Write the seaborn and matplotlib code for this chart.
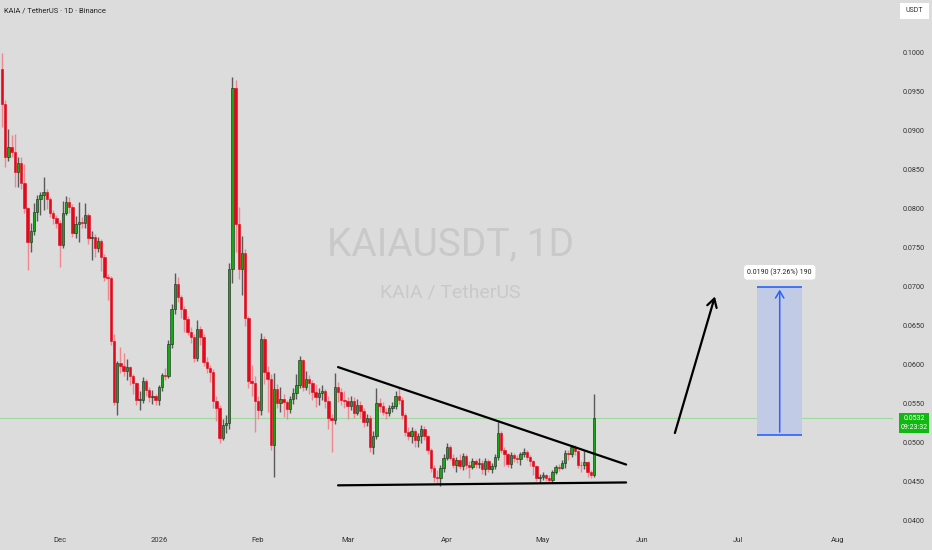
import pandas as pd
import matplotlib
matplotlib.use("Agg")
import matplotlib.pyplot as plt
import matplotlib.dates as mdates
from matplotlib.patches import Rectangle
import seaborn as sns

sns.set_style("white")
plt.rcParams['font.family'] = ['Roboto', 'DejaVu Sans']

# daily candles KAIA/USDT
start_date = "2025-11-13"
first_open = 0.0979
closes = [
    0.0935, 0.0867, 0.0879, 0.0873, 0.0847, 0.0859, 0.0833, 0.0801, 0.0758, 0.0771,
    0.0796, 0.0813, 0.0818, 0.0821, 0.0813, 0.0795, 0.0788, 0.0782, 0.0754, 0.0795,
    0.0809, 0.0803, 0.0769, 0.0781, 0.0783, 0.0782, 0.0792, 0.0762, 0.0764, 0.0750,
    0.0759, 0.0738, 0.0712, 0.0711, 0.0631, 0.0552, 0.0602, 0.0599, 0.0592, 0.0597,
    0.0585, 0.0576, 0.0555, 0.0555, 0.0579, 0.0568, 0.0558, 0.0560, 0.0555, 0.0571,
    0.0587, 0.0586, 0.0626, 0.0671, 0.0704, 0.0687, 0.0672, 0.0659, 0.0642, 0.0636,
    0.0609, 0.0646, 0.0636, 0.0604, 0.0596, 0.0591, 0.0553, 0.0545, 0.0506, 0.0523,
    0.0525, 0.0723, 0.0955, 0.0780, 0.0723, 0.0744, 0.0660, 0.0579, 0.0576, 0.0553,
    0.0542, 0.0633, 0.0591, 0.0582, 0.0497, 0.0569, 0.0551, 0.0556, 0.0552, 0.0543,
    0.0556, 0.0564, 0.0574, 0.0606, 0.0572, 0.0582, 0.0576, 0.0565, 0.0559, 0.0564,
    0.0566, 0.0553, 0.0532, 0.0529, 0.0571, 0.0565, 0.0555, 0.0553, 0.0547, 0.0554,
    0.0538, 0.0549, 0.0541, 0.0527, 0.0532, 0.0495, 0.0508, 0.0551, 0.0547, 0.0540,
    0.0538, 0.0544, 0.0547, 0.0560, 0.0555, 0.0535, 0.0514, 0.0509, 0.0515, 0.0503,
    0.0508, 0.0518, 0.0508, 0.0491, 0.0468, 0.0456, 0.0455, 0.0468, 0.0481, 0.0494,
    0.0481, 0.0471, 0.0478, 0.0470, 0.0483, 0.0472, 0.0469, 0.0477, 0.0473, 0.0474,
    0.0466, 0.0477, 0.0466, 0.0470, 0.0482, 0.0513, 0.0491, 0.0486, 0.0473, 0.0484,
    0.0481, 0.0479, 0.0485, 0.0488, 0.0482, 0.0476, 0.0470, 0.0455, 0.0456, 0.0458,
    0.0455, 0.0452, 0.0462, 0.0469, 0.0468, 0.0474, 0.0487, 0.0485, 0.0494, 0.0489,
    0.0472, 0.0471, 0.0475, 0.0462, 0.0459, 0.0532,
]
highs = [
    0.1000, 0.0940, 0.0903, 0.0895, 0.0896, 0.0866, 0.0867, 0.0857, 0.0803, 0.0782,
    0.0807, 0.0818, 0.0822, 0.0841, 0.0825, 0.0815, 0.0799, 0.0792, 0.0786, 0.0810,
    0.0816, 0.0815, 0.0806, 0.0791, 0.0809, 0.0790, 0.0808, 0.0795, 0.0771, 0.0768,
    0.0764, 0.0761, 0.0742, 0.0716, 0.0714, 0.0640, 0.0605, 0.0623, 0.0615, 0.0607,
    0.0598, 0.0588, 0.0578, 0.0566, 0.0584, 0.0582, 0.0571, 0.0567, 0.0562, 0.0574,
    0.0590, 0.0596, 0.0632, 0.0678, 0.0718, 0.0712, 0.0690, 0.0675, 0.0662, 0.0648,
    0.0640, 0.0657, 0.0650, 0.0640, 0.0610, 0.0600, 0.0595, 0.0560, 0.0548, 0.0530,
    0.0535, 0.0730, 0.0969, 0.0965, 0.0803, 0.0765, 0.0748, 0.0663, 0.0600, 0.0585,
    0.0560, 0.0641, 0.0637, 0.0598, 0.0588, 0.0590, 0.0575, 0.0572, 0.0562, 0.0555,
    0.0560, 0.0570, 0.0588, 0.0611, 0.0608, 0.0592, 0.0587, 0.0580, 0.0575, 0.0570,
    0.0574, 0.0569, 0.0560, 0.0537, 0.0590, 0.0578, 0.0570, 0.0566, 0.0558, 0.0560,
    0.0558, 0.0556, 0.0553, 0.0545, 0.0537, 0.0535, 0.0515, 0.0570, 0.0557, 0.0552,
    0.0545, 0.0548, 0.0552, 0.0566, 0.0572, 0.0558, 0.0538, 0.0520, 0.0520, 0.0518,
    0.0512, 0.0523, 0.0522, 0.0510, 0.0493, 0.0472, 0.0465, 0.0472, 0.0486, 0.0500,
    0.0497, 0.0486, 0.0482, 0.0485, 0.0487, 0.0486, 0.0476, 0.0480, 0.0479, 0.0481,
    0.0478, 0.0480, 0.0479, 0.0474, 0.0485, 0.0526, 0.0515, 0.0495, 0.0487, 0.0488,
    0.0487, 0.0484, 0.0488, 0.0493, 0.0490, 0.0484, 0.0478, 0.0472, 0.0460, 0.0462,
    0.0460, 0.0458, 0.0465, 0.0472, 0.0473, 0.0478, 0.0490, 0.0491, 0.0497, 0.0497,
    0.0491, 0.0477, 0.0489, 0.0477, 0.0465, 0.0562,
]
lows = [
    0.0905, 0.0854, 0.0862, 0.0866, 0.0828, 0.0828, 0.0826, 0.0795, 0.0722, 0.0745,
    0.0766, 0.0785, 0.0792, 0.0798, 0.0800, 0.0790, 0.0781, 0.0776, 0.0726, 0.0750,
    0.0792, 0.0795, 0.0764, 0.0763, 0.0758, 0.0775, 0.0776, 0.0755, 0.0735, 0.0738,
    0.0745, 0.0720, 0.0707, 0.0683, 0.0625, 0.0548, 0.0536, 0.0590, 0.0586, 0.0580,
    0.0574, 0.0562, 0.0548, 0.0542, 0.0551, 0.0560, 0.0552, 0.0550, 0.0548, 0.0549,
    0.0566, 0.0580, 0.0583, 0.0621, 0.0665, 0.0680, 0.0660, 0.0642, 0.0638, 0.0628,
    0.0604, 0.0605, 0.0625, 0.0598, 0.0590, 0.0578, 0.0545, 0.0528, 0.0500, 0.0503,
    0.0512, 0.0518, 0.0705, 0.0745, 0.0710, 0.0690, 0.0650, 0.0570, 0.0560, 0.0514,
    0.0530, 0.0535, 0.0575, 0.0540, 0.0490, 0.0456, 0.0545, 0.0540, 0.0533, 0.0530,
    0.0538, 0.0550, 0.0556, 0.0570, 0.0566, 0.0568, 0.0563, 0.0555, 0.0546, 0.0548,
    0.0555, 0.0545, 0.0518, 0.0488, 0.0524, 0.0552, 0.0548, 0.0545, 0.0530, 0.0542,
    0.0532, 0.0535, 0.0532, 0.0520, 0.0522, 0.0488, 0.0486, 0.0505, 0.0540, 0.0535,
    0.0530, 0.0534, 0.0540, 0.0543, 0.0550, 0.0530, 0.0508, 0.0504, 0.0500, 0.0494,
    0.0495, 0.0500, 0.0503, 0.0485, 0.0462, 0.0450, 0.0448, 0.0444, 0.0462, 0.0478,
    0.0478, 0.0468, 0.0462, 0.0466, 0.0465, 0.0466, 0.0455, 0.0466, 0.0468, 0.0468,
    0.0460, 0.0458, 0.0462, 0.0461, 0.0466, 0.0478, 0.0487, 0.0470, 0.0469, 0.0468,
    0.0475, 0.0474, 0.0472, 0.0482, 0.0478, 0.0470, 0.0459, 0.0451, 0.0450, 0.0452,
    0.0451, 0.0450, 0.0450, 0.0460, 0.0464, 0.0466, 0.0468, 0.0478, 0.0482, 0.0484,
    0.0468, 0.0462, 0.0466, 0.0456, 0.0455, 0.0456,
]
last_price = 0.0532
countdown = "09:23:32"

# drawings on the chart
trend_dates = ["2026-02-26", "2026-05-27"]
upper_trend = [0.0597, 0.0472]
lower_trend = [0.04453, 0.0449]
arrow_dates = ["2026-06-11", "2026-06-24"]
arrow_prices = [0.0509, 0.0691]
target_dates = ["2026-07-07", "2026-07-14", "2026-07-21"]
target_prices = [0.0510, 0.0700]
target_label = "0.0190 (37.26%) 190"

price_ticks = [0.04 + 0.005 * k for k in range(13)]
month_ticks = ["2025-12-01", "2026-01-01", "2026-02-01", "2026-03-01", "2026-04-01",
               "2026-05-01", "2026-06-01", "2026-07-01", "2026-08-01"]
month_labels = ["Dec", "2026", "Feb", "Mar", "Apr", "May", "Jun", "Jul", "Aug"]

df = pd.DataFrame({
    "date": pd.date_range(start_date, periods=len(closes), freq="D"),
    "close": closes, "high": highs, "low": lows,
})
df["open"] = [first_open] + closes[:-1]
df["up"] = df["close"] >= df["open"]

bg = "#dcdcdc"
green = "#14a814"
red = "#e3081c"

fig = plt.figure(figsize=(9.32, 5.5), dpi=100, facecolor=bg)
ax = fig.add_axes([0, 20 / 550, 893 / 932, 530 / 550], facecolor=bg)

# wicks
up = df[df["up"]]
dn = df[~df["up"]]
ax.vlines(up["date"], up["low"], up["high"], color="#5a5a5a", lw=1, zorder=2)
ax.vlines(dn["date"], dn["low"], dn["high"], color="#ee8890", lw=1, zorder=2)

# bodies
body = (df["close"] - df["open"]).abs().clip(lower=0.00008)
bottom = df[["open", "close"]].min(axis=1)
ax.bar(df["date"], body, bottom=bottom, width=0.74,
       color=[green if u else red for u in df["up"]],
       edgecolor=["#222222" if u else red for u in df["up"]],
       linewidth=0.4, zorder=3)

# last price line
ax.axhline(last_price, color="#9fd89f", lw=0.8, zorder=1)

# triangle
tdates = pd.to_datetime(trend_dates)
sns.lineplot(x=tdates, y=upper_trend, color="black", lw=1.6, ax=ax, zorder=4)
sns.lineplot(x=tdates, y=lower_trend, color="black", lw=1.6, ax=ax, zorder=4)

# arrow
adates = pd.to_datetime(arrow_dates)
ax.annotate("", xy=(adates[1], arrow_prices[1]), xytext=(adates[0], arrow_prices[0]),
            arrowprops=dict(arrowstyle="->,head_length=0.6,head_width=0.35",
                            color="black", lw=1.6), zorder=4)

# target box
bx = pd.to_datetime(target_dates)
x0, xm, x1 = [mdates.date2num(d) for d in bx]
ax.add_patch(Rectangle((x0, target_prices[0]), x1 - x0, target_prices[1] - target_prices[0],
                       facecolor="#c2cbe6", edgecolor="none", zorder=2))
ax.hlines(target_prices, x0, x1, color="#2962ff", lw=1.2, zorder=3)
ax.annotate("", xy=(xm, target_prices[1]), xytext=(xm, target_prices[0]),
            arrowprops=dict(arrowstyle="->,head_length=0.5,head_width=0.3",
                            color="#2962ff", lw=1.1), zorder=3)
ax.text(xm, 0.07186, target_label, ha="center", va="center", fontsize=5, color="#222222",
        bbox=dict(boxstyle="round,pad=0.5", fc="white", ec="none"), zorder=5)

# watermark
ax.text(0.504, 0.538, "KAIAUSDT, 1D", transform=ax.transAxes, ha="center", va="center",
        fontsize=28, color="#c9c9c9", zorder=0)
ax.text(0.504, 0.449, "KAIA / TetherUS", transform=ax.transAxes, ha="center", va="center",
        fontsize=14, color="#c9c9c9", zorder=0)

# axes
start = mdates.date2num(pd.Timestamp(start_date))
ax.set_xlim(start - 0.625, start + 278.4)
ax.set_ylim(0.0388, 0.05 + 443 / 7800)
ax.yaxis.tick_right()
ax.set_yticks(price_ticks)
ax.set_yticklabels([f"{p:.4f}" for p in price_ticks])
ax.set_xticks(pd.to_datetime(month_ticks))
ax.set_xticklabels(month_labels)
ax.tick_params(axis="y", length=0, pad=7, labelsize=5.2, labelcolor="#333333")
ax.tick_params(axis="x", length=0, pad=5, labelsize=5.5, labelcolor="#333333")
for s in ax.spines.values():
    s.set_visible(False)
ax.set_xlabel("")
ax.set_ylabel("")

fig.text(4 / 932, 1 - 11 / 550, "KAIA / TetherUS · 1D · Binance", fontsize=5.4,
         color="#222222", va="center", ha="left")

# USDT box and last price tag
fig.patches.append(Rectangle((900 / 932, 1 - 19 / 550), 29 / 932, 16 / 550,
                             transform=fig.transFigure, facecolor="white", edgecolor="none"))
fig.text(914.5 / 932, 1 - 11 / 550, "USDT", fontsize=5, color="#333333",
         ha="center", va="center")
fig.patches.append(Rectangle((899 / 932, 1 - 433 / 550), 30 / 932, 20 / 550,
                             transform=fig.transFigure, facecolor="#12b812", edgecolor="none"))
fig.text(914 / 932, 1 - 418.5 / 550, f"{last_price:.4f}", fontsize=5, color="white",
         ha="center", va="center")
fig.text(914 / 932, 1 - 427.5 / 550, countdown, fontsize=5, color="white",
         ha="center", va="center")

fig.savefig("out.png", dpi=100, facecolor=bg)
